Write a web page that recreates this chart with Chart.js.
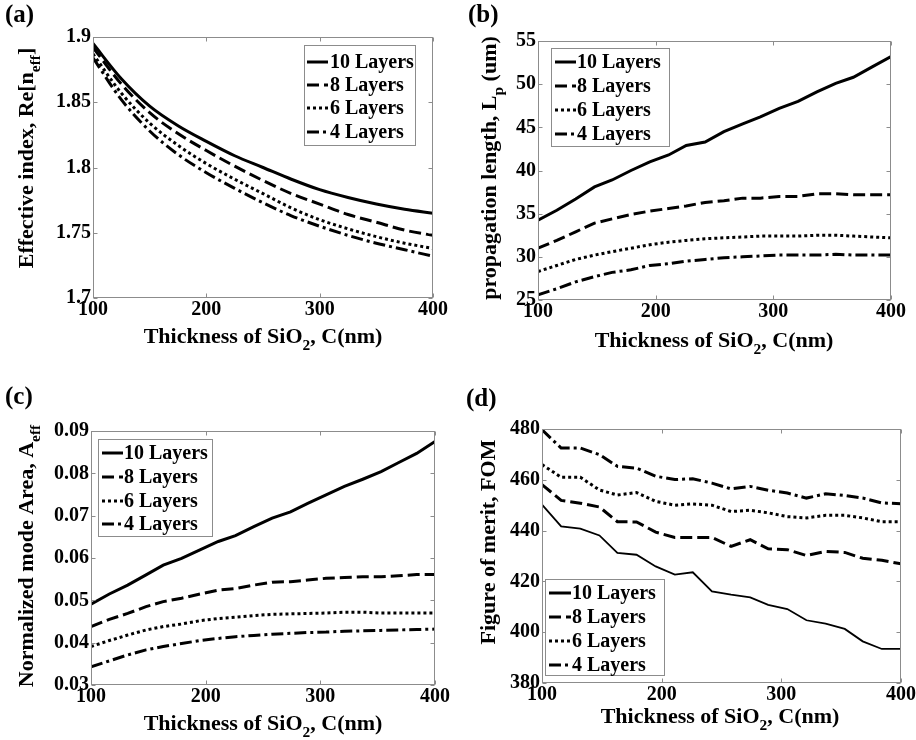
<!DOCTYPE html>
<html>
<head>
<meta charset="utf-8">
<script src="https://cdn.jsdelivr.net/npm/chart.js@4.4.1/dist/chart.umd.min.js"></script>
<style>
body{margin:0;background:#fff;width:916px;height:740px;position:relative;overflow:hidden}
canvas{position:absolute}
</style>
</head>
<body>
<canvas id="ca" width="458" height="370" style="left:0px;top:0px;width:458px;height:370px"></canvas>
<canvas id="cb" width="458" height="370" style="left:458px;top:0px;width:458px;height:370px"></canvas>
<canvas id="cc" width="458" height="370" style="left:0px;top:370px;width:458px;height:370px"></canvas>
<canvas id="cd" width="458" height="370" style="left:458px;top:370px;width:458px;height:370px"></canvas>
<script>

// ---- data ----
const seriesNames=["10 Layers","8 Layers","6 Layers","4 Layers"]

const xSmooth=[100,125,150,175,200,225,250,275,300,325,350,375,400]
const xGrid=[100,116,132,148,163,179,195,211,226,242,258,274,289,305,321,337,353,368,384,400]
const xTicks=[100,200,300,400]

// (a) effective index
const neff10=[1.895,1.868,1.847,1.832,1.820,1.809,1.800,1.791,1.783,1.777,1.772,1.768,1.765]
const neff8=[1.892,1.864,1.842,1.826,1.813,1.801,1.790,1.780,1.772,1.764,1.758,1.752,1.748]
const neff6=[1.887,1.857,1.834,1.817,1.803,1.791,1.780,1.769,1.760,1.753,1.747,1.742,1.738]
const neff4=[1.884,1.852,1.828,1.810,1.796,1.784,1.773,1.763,1.755,1.748,1.742,1.737,1.732]

// (b) propagation length (um)
const lp10=[34.25,35.4,36.7,38.1,38.9,40.0,41.0,41.8,42.9,43.3,44.5,45.4,46.2,47.2,48.0,49.1,50.1,50.8,52.0,53.2]
const lp8=[31.0,31.9,32.9,33.9,34.4,34.9,35.3,35.6,35.9,36.3,36.5,36.8,36.8,37.0,37.0,37.3,37.3,37.2,37.2,37.2]
const lp6=[28.3,29.0,29.7,30.2,30.6,31.0,31.4,31.7,31.9,32.1,32.2,32.3,32.4,32.4,32.4,32.5,32.5,32.4,32.3,32.2]
const lp4=[25.6,26.3,27.1,27.7,28.2,28.5,29.0,29.2,29.5,29.7,29.9,30.0,30.1,30.2,30.2,30.2,30.3,30.2,30.2,30.2]

// (c) normalized mode area
const aeff10=[0.0491,0.0515,0.0536,0.0560,0.0583,0.0599,0.0619,0.0639,0.0653,0.0674,0.0694,0.0709,0.0729,0.0749,0.0769,0.0786,0.0804,0.0825,0.0847,0.0875]
const aeff8=[0.0438,0.0455,0.0469,0.0485,0.0497,0.0505,0.0515,0.0524,0.0528,0.0536,0.0543,0.0544,0.0548,0.0552,0.0554,0.0556,0.0556,0.0558,0.0561,0.0561]
const aeff6=[0.0391,0.0405,0.0418,0.0430,0.0438,0.0444,0.0452,0.0457,0.0460,0.0464,0.0467,0.0468,0.0469,0.0470,0.0472,0.0472,0.0470,0.0470,0.0470,0.0470]
const aeff4=[0.0343,0.0357,0.0371,0.0383,0.0391,0.0398,0.0405,0.0410,0.0414,0.0417,0.0420,0.0422,0.0424,0.0425,0.0427,0.0428,0.0429,0.0430,0.0431,0.0432]

// (d) figure of merit
const fom10=[450.2,441.7,440.8,438.1,431.2,430.5,425.9,422.7,423.6,416.1,414.8,413.7,410.8,409.1,404.7,403.4,401.3,396.4,393.4,393.4]
const fom8=[458.1,451.9,450.8,449.3,443.5,443.4,439.4,437.3,437.3,437.3,433.8,436.4,432.8,432.5,430.2,431.8,431.4,429.1,428.3,426.9]
const fom6=[466,461,461,456,454,455,451.5,450,450.5,450,447.5,448,447,445.5,445,446,446,445,443.5,443.5]
const fom4=[479.7,472.5,472.5,469.9,465.3,464.6,461.4,460.1,460.4,458.7,456.4,457.4,455.9,454.8,452.8,454.5,453.8,452.8,450.9,450.6]

// ---- styles ----
const FONT='"Liberation Serif","Times New Roman",serif'
const dashes=[[],[12,5],[3,3],[12,4,3,4]]
const frameColor="#8c8c8c"

const panels=[
{id:"ca",label:"(a)",box:[0,0,458,370],plot:[93,37,433,298],x:xSmooth,ys:[neff10,neff8,neff6,neff4],
 y:[1.7,1.9,0.05],smooth:true,solidW:3,
 labelPos:[5,22],
 xTitle:[["Thickness of SiO"],["2",1],[", C(nm)"]],xTitlePos:[263,343],
 yTitle:[["Effective index, Re[n"],["eff",1],["]"]],yTitlePos:[33,158],
 legend:{box:[304,45,415,145],line:[307,328],text:330,rows:[62,85,108,132]}},
{id:"cb",label:"(b)",box:[458,0,458,370],plot:[538,41,891,300],x:xGrid,ys:[lp10,lp8,lp6,lp4],
 y:[25,55,5],smooth:false,solidW:3,
 labelPos:[468,22],
 xTitle:[["Thickness of SiO"],["2",1],[", C(nm)"]],xTitlePos:[714,347],
 yTitle:[["propagation length, L"],["p",1],[" (um)"]],yTitlePos:[496,168],
 legend:{box:[551,48,669,146],line:[555,576],text:577,rows:[62,86,110,134]}},
{id:"cc",label:"(c)",box:[0,370,458,370],plot:[91,431,435,685],x:xGrid,ys:[aeff10,aeff8,aeff6,aeff4],
 y:[0.03,0.09,0.01],smooth:false,solidW:3,
 labelPos:[5,404],
 xTitle:[["Thickness of SiO"],["2",1],[", C(nm)"]],xTitlePos:[263,730],
 yTitle:[["Normalized mode Area, A"],["eff",1]],yTitlePos:[33,556],
 legend:{box:[98,439,212,536],line:[102,123],text:124,rows:[453,477,501,524]}},
{id:"cd",label:"(d)",box:[458,370,458,370],plot:[542,429,901,683],x:xGrid,ys:[fom10,fom8,fom6,fom4],
 y:[380,480,20],smooth:false,solidW:1.8,
 labelPos:[466,406],
 xTitle:[["Thickness of SiO"],["2",1],[", C(nm)"]],xTitlePos:[720,723],
 yTitle:[["Figure of merit, FOM"]],yTitlePos:[495,542],
 legend:{box:[545,579,664,675],line:[549,571],text:572,rows:[593,617,641,665]}}
]

function drawRich(ctx,segs,cx,cy,size,rot){
ctx.save()
ctx.translate(cx,cy)
if(rot) ctx.rotate(-Math.PI/2)
let w=0
const ws=segs.map(s=>{
ctx.font="bold "+(s[1]?size*0.7:size)+"px "+FONT
let m=ctx.measureText(s[0]).width
w+=m
return m
})
let x=-w/2
ctx.fillStyle="#000"
ctx.textAlign="left"
ctx.textBaseline="alphabetic"
segs.forEach((s,i)=>{
ctx.font="bold "+(s[1]?size*0.7:size)+"px "+FONT
ctx.fillText(s[0],x,s[1]?size*0.3:0)
x+=ws[i]
})
ctx.restore()
}

function makeFrame(p){
const ox=p.box[0],oy=p.box[1]
return {id:"frame",afterDraw(chart){
const ctx=chart.ctx,a=chart.chartArea
ctx.save()
ctx.strokeStyle=frameColor
ctx.lineWidth=1
ctx.setLineDash([])
const L=Math.round(a.left)+0.5,R=Math.round(a.right)-0.5,T=Math.round(a.top)+0.5,B=Math.round(a.bottom)-0.5
ctx.strokeRect(L,T,R-L,B-T)
// inward ticks on all four sides
ctx.beginPath()
chart.scales.x.ticks.forEach(t=>{
let px=Math.round(chart.scales.x.getPixelForValue(t.value))+0.5
ctx.moveTo(px,B);ctx.lineTo(px,B-4)
ctx.moveTo(px,T);ctx.lineTo(px,T+4)
})
chart.scales.y.ticks.forEach(t=>{
let py=Math.round(chart.scales.y.getPixelForValue(t.value))+0.5
ctx.moveTo(L,py);ctx.lineTo(L+4,py)
ctx.moveTo(R,py);ctx.lineTo(R-4,py)
})
ctx.stroke()

// legend
const lg=p.legend
ctx.fillStyle="#fff"
ctx.fillRect(lg.box[0]-ox,lg.box[1]-oy,lg.box[2]-lg.box[0],lg.box[3]-lg.box[1])
ctx.strokeRect(lg.box[0]-ox+0.5,lg.box[1]-oy+0.5,lg.box[2]-lg.box[0],lg.box[3]-lg.box[1])
seriesNames.forEach((n,i)=>{
let y=lg.rows[i]-oy
ctx.save()
ctx.strokeStyle="#000"
ctx.lineWidth=3
ctx.setLineDash(dashes[i])
ctx.beginPath()
ctx.moveTo(lg.line[0]-ox,y)
ctx.lineTo(lg.line[1]-ox,y)
ctx.stroke()
ctx.restore()
ctx.fillStyle="#000"
ctx.font="bold 20px "+FONT
ctx.textAlign="left"
ctx.textBaseline="middle"
ctx.fillText(n,lg.text-ox,y+1)
})

// axis titles and panel label
drawRich(ctx,p.xTitle,p.xTitlePos[0]-ox,p.xTitlePos[1]-oy,22,false)
drawRich(ctx,p.yTitle,p.yTitlePos[0]-ox,p.yTitlePos[1]-oy,22,true)
ctx.fillStyle="#000"
ctx.font="bold 25px "+FONT
ctx.textAlign="left"
ctx.textBaseline="alphabetic"
ctx.fillText(p.label,p.labelPos[0]-ox,p.labelPos[1]-oy)
ctx.restore()
}}
}

panels.forEach(p=>{
const bx=p.box
const datasets=p.ys.map((ys,i)=>({
label:seriesNames[i],
data:p.x.map((x,j)=>({x:x,y:ys[j]})),
borderColor:"#000",
borderWidth:i==0?p.solidW:3,
borderDash:dashes[i],
borderCapStyle:"butt",
pointRadius:0,
fill:false,
cubicInterpolationMode:p.smooth?"monotone":"default",
tension:0
}))
new Chart(document.getElementById(p.id),{
type:"line",
data:{datasets:datasets},
plugins:[makeFrame(p)],
options:{
responsive:false,
animation:false,
events:[],
layout:{padding:{left:0,bottom:0,top:p.plot[1]-bx[1],right:bx[0]+bx[2]-p.plot[2]}},
plugins:{legend:{display:false},tooltip:{enabled:false}},
scales:{
x:{type:"linear",min:100,max:400,
afterBuildTicks:s=>{s.ticks=xTicks.map(v=>({value:v}))},
ticks:{color:"#000",font:{family:FONT,size:20,weight:"bold"},padding:0,maxRotation:0},
grid:{display:false,drawTicks:false},border:{display:false},
afterFit:s=>{s.height=bx[1]+bx[3]-p.plot[3]}},
y:{type:"linear",min:p.y[0],max:p.y[1],
ticks:{stepSize:p.y[2],color:"#000",font:{family:FONT,size:20,weight:"bold"},padding:2,
callback:v=>String(+v.toFixed(4))},
grid:{display:false,drawTicks:false},border:{display:false},
afterFit:s=>{s.width=p.plot[0]-bx[0]}}
}
}
})
})

</script>
</body>
</html>
